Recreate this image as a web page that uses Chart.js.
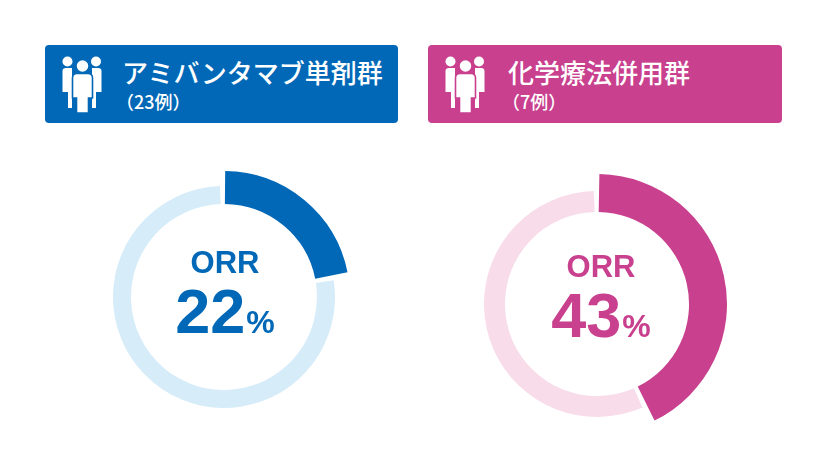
<!DOCTYPE html>
<html>
<head>
<meta charset="utf-8">
<script src="https://cdn.jsdelivr.net/npm/chart.js@4"></script>
<style>
  html, body { margin:0; padding:0; background:#fff; width:823px; height:472px; overflow:hidden; }
  body { position:relative; font-family: "Noto Sans CJK JP", "Liberation Sans", sans-serif; }
  .hdr { position:absolute; top:45px; height:78px; border-radius:4px; color:#fff; }
  .hdr svg { position:absolute; left:17px; top:11px; }
  .hdr .t1 { position:absolute; top:9px; font-size:26px; font-weight:500; white-space:nowrap; line-height:36px; }
  .hdr .t2 { position:absolute; top:44px; font-size:18px; font-weight:500; white-space:nowrap; line-height:24px; }
  canvas { position:absolute; }
  .ctr { position:absolute; text-align:center; font-family:"Liberation Sans", Arial, sans-serif; font-weight:bold; white-space:nowrap; }
  .ctr .lab { font-size:31px; line-height:31px; display:block; }
  .ctr .num { font-size:63px; line-height:61px; display:block; letter-spacing:0px; margin-top:3px; }
  .ctr .pct { font-size:32px; letter-spacing:0; margin-left:1px; }
</style>
</head>
<body>
<div id="root"></div>
<script>
// ---- data ----
const groupNames = ['アミバンタマブ単剤群', '化学療法併用群'];
const groupCounts = ['（23例）', '（7例）'];
const metricLabel = 'ORR';
const orrValues = [22, 43];

// ---- styling ----
const mainColors = ['#0068b7', '#c8408e'];
const lightColors = ['#d6ecf9', '#f8dcea'];
const headerBoxes = [{left:45, width:353}, {left:428, width:354}];
const titleLefts = [77, 80];
// canvas size, padding, cutout, and outer radius (px, before spacing shift) of the highlighted arc
const donuts = [
  {cx:224, cy:297, size:256, pad:17, cutout:'83.56%', hiOuter:124.5},
  {cx:597, cy:304, size:264, pad:19, cutout:'81.2%',  hiOuter:128.5}
];
const textCenters = [{cx:225, top:247}, {cx:601, top:251}];

// plugin: enlarge the outer radius of the first (response) arc
const emphasizePlugin = {
  id: 'emphasize',
  afterDatasetsUpdate(chart, args, opts) {
    const meta = chart.getDatasetMeta(0);
    if (meta.data[0]) meta.data[0].outerRadius = opts.outer;
  }
};

function peopleIcon(bg) {
  return `<svg width="42" height="58" viewBox="0 0 42 58">
    <circle cx="5.5" cy="5.5" r="5" fill="#fff"/>
    <circle cx="34" cy="5.5" r="5" fill="#fff"/>
    <path d="M0.5 15 Q0.5 12 4 12 L10 12 L10 52 L6 52 L6 36 L0.5 36 Z" fill="#fff"/>
    <path d="M39.5 15 Q39.5 12 36 12 L30 12 L30 52 L34 52 L34 36 L39.5 36 Z" fill="#fff"/>
    <circle cx="20.5" cy="10" r="6.5" fill="#fff" stroke="${bg}" stroke-width="1.5"/>
    <path d="M10.5 22 Q10.5 17.5 15 17.5 L26 17.5 Q30.5 17.5 30.5 22 L30.5 42 L26.5 42 L26.5 57 L14.5 57 L14.5 42 L10.5 42 Z" fill="#fff" stroke="${bg}" stroke-width="1.6"/>
  </svg>`;
}

const root = document.getElementById('root');
groupNames.forEach((name, i) => {
  const hdr = document.createElement('div');
  hdr.className = 'hdr';
  hdr.style.left = headerBoxes[i].left + 'px';
  hdr.style.width = headerBoxes[i].width + 'px';
  hdr.style.background = mainColors[i];
  hdr.innerHTML = peopleIcon(mainColors[i]) +
    `<div class="t1" style="left:${titleLefts[i]}px">${name}</div>` +
    `<div class="t2" style="left:${titleLefts[i]-6}px">${groupCounts[i]}</div>`;
  root.appendChild(hdr);

  const d = donuts[i];
  const cv = document.createElement('canvas');
  cv.width = d.size; cv.height = d.size;
  cv.style.width = d.size + 'px'; cv.style.height = d.size + 'px';
  cv.style.left = (d.cx - d.size/2) + 'px';
  cv.style.top = (d.cy - d.size/2) + 'px';
  root.appendChild(cv);

  const v = orrValues[i];
  new Chart(cv, {
    type: 'doughnut',
    data: {
      labels: ['奏効', '非奏効'],
      datasets: [
        { data: [v, 100 - v], backgroundColor: [mainColors[i], lightColors[i]], borderWidth: 0, spacing: 3 }
      ]
    },
    plugins: [emphasizePlugin],
    options: {
      responsive: false,
      devicePixelRatio: 1,
      animation: false,
      cutout: d.cutout,
      layout: { padding: d.pad },
      plugins: { legend: { display: false }, tooltip: { enabled: false }, emphasize: { outer: d.hiOuter } }
    }
  });

  const t = document.createElement('div');
  t.className = 'ctr';
  t.style.color = mainColors[i];
  t.style.left = (textCenters[i].cx - 100) + 'px';
  t.style.width = '200px';
  t.style.top = textCenters[i].top + 'px';
  t.innerHTML = `<span class="lab">${metricLabel}</span><span class="num">${v}<span class="pct">%</span></span>`;
  root.appendChild(t);
});
</script>
</body>
</html>
